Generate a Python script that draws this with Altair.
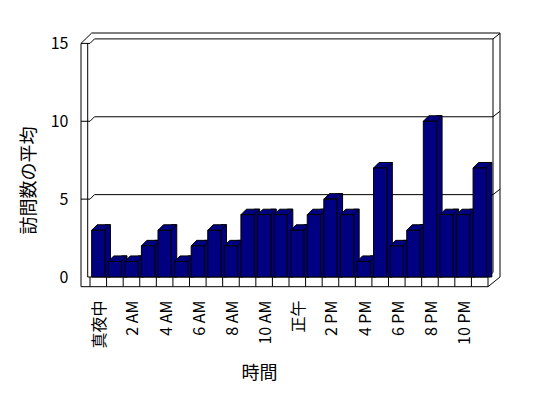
import altair as alt
import pandas as pd

# ---- data -------------------------------------------------------------
hours = ["真夜中", "1 AM", "2 AM", "3 AM", "4 AM", "5 AM", "6 AM", "7 AM",
         "8 AM", "9 AM", "10 AM", "11 AM", "正午", "1 PM", "2 PM", "3 PM",
         "4 PM", "5 PM", "6 PM", "7 PM", "8 PM", "9 PM", "10 PM", "11 PM"]
visits = [3, 1, 1, 2, 3, 1, 2, 3, 2, 4, 4, 4, 3, 4, 5, 4, 1, 7, 2, 3, 10, 4, 4, 7]
x_tick_labels = ["真夜中", "2 AM", "4 AM", "6 AM", "8 AM", "10 AM", "正午",
                 "2 PM", "4 PM", "6 PM", "8 PM", "10 PM"]
y_ticks = [0, 5, 10, 15]
grid_values = [5, 10, 15]

df = pd.DataFrame({"時間": hours, "訪問数の平均": visits})
grid_df = pd.DataFrame({"v": grid_values})
one = pd.DataFrame({"k": [0]})

# ---- style ------------------------------------------------------------
NAVY = "#000080"
FONT = "Noto Sans CJK JP"
X_RANGE = [9, 407]
STEP = (X_RANGE[1] - X_RANGE[0]) / len(hours)
BAND = STEP * 0.8
D = 5.5          # bar depth
GD = 4.5         # wall depth (vertical)
PW, PH = 419, 254

x_scale = alt.Scale(domain=hours, range=X_RANGE, paddingInner=0.2, paddingOuter=0.1)
y_scale = alt.Scale(domain=[0, 15], range=[244, 10.4], nice=False, zero=True)

x_axis = alt.Axis(values=x_tick_labels, labelAngle=270, labelAlign="right",
                  labelBaseline="middle", labelPadding=13, labelFont=FONT,
                  labelFontSize=16, labelColor="black", ticks=False, tickSize=0,
                  domain=False, grid=False, title="時間", titleFont=FONT,
                  titleFontSize=18, titleFontWeight="normal", titleColor="black",
                  titleX=178, titleY=86, titleAlign="center", titleBaseline="middle",
                  labelOffset=2)
y_axis = alt.Axis(values=y_ticks, labelPadding=13, labelFont=FONT, labelFontSize=16,
                  labelColor="black", ticks=False, tickSize=0, domain=False,
                  grid=False, title="訪問数の平均", titleFont=FONT, titleFontSize=18,
                  titleFontWeight="normal", titleColor="black", titleAngle=270,
                  titleX=-52, titleY=147, titleAlign="center", titleBaseline="middle")


def X(**kw):
    return alt.X("時間:N", sort=hours, scale=x_scale, axis=x_axis, **kw)


def Y():
    return alt.Y("訪問数の平均:Q", scale=y_scale, axis=y_axis, stack=None)


def GY():
    return alt.Y("v:Q", scale=y_scale, axis=y_axis)


def seg(x1, x2, y1, y2):
    return alt.Chart(one).mark_rule(color="black", strokeWidth=1).encode(
        x=alt.value(x1), x2=alt.value(x2), y=alt.value(y1), y2=alt.value(y2))


# ---- walls / floor frame ----------------------------------------------
frame = [
    seg(0, 0, 10.4, 253.7),          # left front edge
    seg(6.7, 6.7, 10.4, 244),        # left wall inner edge
    seg(0, 10.7, 10.4, 0),           # top-left outer diagonal
    seg(10.7, PW, 0, 0),             # outer top
    seg(PW, PW, 0, 244),             # right outer edge
    seg(412, 412, 5.9, 239.5),       # right inner edge
    seg(6.7, 407, 244, 244),         # floor top edge
    seg(0, 407, 253.7, 253.7),       # floor front bottom
    seg(407, 407, 244, 253.7),       # floor right front
    seg(407, PW, 253.7, 244),        # floor right diagonal
    seg(407, 412, 244, 239.5),       # floor back diagonal
]

grid_front = alt.Chart(grid_df).mark_rule(color="black", strokeWidth=1).encode(
    x=alt.value(0), x2=alt.value(9), y=GY())
grid_diag = alt.Chart(grid_df).mark_rule(color="black", strokeWidth=1, y2Offset=-GD).encode(
    x=alt.value(9), x2=alt.value(13.5), y=GY(), y2=alt.Y2("v:Q"))
grid_back = alt.Chart(grid_df).mark_rule(color="black", strokeWidth=1, yOffset=-GD).encode(
    x=alt.value(13.5), x2=alt.value(412), y=GY())
grid_right = alt.Chart(grid_df).mark_rule(color="black", strokeWidth=1, yOffset=-GD,
                                          y2Offset=-10).encode(
    x=alt.value(412), x2=alt.value(PW), y=GY(), y2=alt.Y2("v:Q"))

dividers = alt.Chart(df).mark_rule(color="black", strokeWidth=1,
                                   xOffset=-STEP * 0.1).encode(
    x=X(bandPosition=0), y=alt.value(244), y2=alt.value(253.7))

# ---- 3D bars ----------------------------------------------------------
side = alt.Chart(df).mark_bar(width=D, xOffset=BAND / 2 + D / 2, yOffset=-D,
                              fill=NAVY, stroke="black", strokeWidth=1).encode(
    x=X(), y=Y())
h = BAND / 2
top_path = f"M{-h:.2f},0L{h:.2f},0L{h + D:.2f},{-D}L{-h + D:.2f},{-D}Z"
top = alt.Chart(df).mark_point(shape=top_path, size=4, filled=True, fill=NAVY,
                               stroke="black", strokeWidth=1, opacity=1).encode(
    x=X(), y=Y())
front = alt.Chart(df).mark_bar(fill=NAVY, stroke="black", strokeWidth=1).encode(
    x=X(), y=Y())

chart = alt.layer(
    *frame, grid_front, grid_diag, grid_back, grid_right, dividers, side, top, front
).properties(
    width=PW, height=PH,
    autosize=alt.AutoSizeParams(type="none"),
    padding={"left": 73, "top": 25, "right": 20, "bottom": 100},
    background="white",
).configure_view(stroke=None)

chart.save("out.html", embed_options={"renderer": "svg", "actions": False})
